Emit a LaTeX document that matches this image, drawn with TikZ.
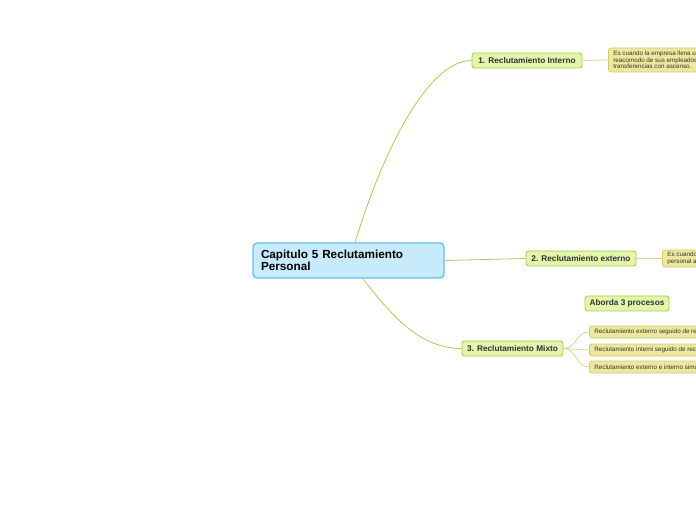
\documentclass[tikz,border=0pt]{standalone}
\usepackage{fontspec}
\setmainfont{Liberation Sans}
\usetikzlibrary{positioning}

\definecolor{centrofondo}{HTML}{C7EBFB}
\definecolor{centroborde}{HTML}{5EC3EF}
\definecolor{temafondo}{HTML}{E2F5AB}
\definecolor{temaborde}{HTML}{A8CF48}
\definecolor{detallefondo}{HTML}{EEE89E}
\definecolor{detalleborde}{HTML}{D4CC6C}
\definecolor{ramaverde}{HTML}{A9CD52}
\definecolor{ramaamarilla}{HTML}{DAD596}
\definecolor{textogris}{HTML}{333333}

\begin{document}
\begin{tikzpicture}[x=0.75pt, y=-0.75pt,
  centro/.style={draw=centroborde, fill=centrofondo, line width=1pt, rounded corners=3pt,
    minimum width=143.25pt, minimum height=26.25pt, inner xsep=6pt, text width=131.25pt,
    align=left, font=\fontsize{8.8}{9}\selectfont\bfseries},
  tema/.style={draw=temaborde, fill=temafondo, line width=0.7pt, rounded corners=2pt,
    minimum height=11.25pt, inner sep=0pt, text=textogris, font=\fontsize{6.2}{7}\selectfont\bfseries},
  detalle/.style={draw=detalleborde, fill=detallefondo, line width=0.6pt, rounded corners=2pt,
    inner xsep=3.75pt, inner ysep=1pt, align=left, anchor=west, text=textogris,
    font=\fontsize{4.7}{4.9}\selectfont},
  rama/.style={ramaverde, line width=0.6pt},
  subrama/.style={ramaamarilla, line width=0.6pt}]

  \useasboundingbox (0,0) rectangle (696,520);
  \begin{scope}
    \clip (0,0) rectangle (696,520);

    % central topic
    \node[centro] (centro) at (348.5,260.5) {Capitulo 5 Reclutamiento\\Personal};

    % main topics
    \node[tema, minimum width=82.5pt] (tema1) at (527,60.5) {1. Reclutamiento Interno};
    \node[tema, minimum width=82.5pt] (tema2) at (581,258.5) {2. Reclutamiento externo};
    \node[tema, minimum width=75.75pt] (tema3) at (512.5,348.5) {3. Reclutamiento Mixto};
    \node[tema, minimum width=63pt] (aborda) at (627,303.5) {Aborda 3 procesos};

    % details
    \node[detalle, minimum height=18pt] (det1) at (608,60)
      {Es cuando la empresa llena una vacante mediante el\\reacomodo de sus empleados, a trav\'es de ascensos o\\transferencias con ascenso.};
    \node[detalle, minimum height=12.75pt] (det2) at (662,258.5)
      {Es cuando la empresa busca\\personal ajeno a la organizaci\'on};
    \node[detalle, minimum height=9pt] (sub1) at (589,332)
      {Reclutamiento externo seguido de reclutamiento interno};
    \node[detalle, minimum height=9pt] (sub2) at (589,350)
      {Reclutamiento interni seguido de reclutamiento externo};
    \node[detalle, minimum height=9pt] (sub3) at (589,367)
      {Reclutamiento externo e interno simult\'aneamente};

    % branches
    \draw[rama] (centro.70) .. controls +(26,-86) and +(-45,0) .. (tema1.west);
    \draw[rama] (centro.east) -- (tema2.west);
    \draw[rama] (centro.-52) .. controls +(25,31) and +(-45,0) .. (tema3.west);

    \draw[subrama] (tema1.east) -- (det1.west);
    \draw[subrama] (tema2.east) -- (det2.west);
    \foreach \s in {sub1,sub2,sub3}
      \draw[subrama] (tema3.east) .. controls +(13,0) and +(-13,0) .. (\s.west);
  \end{scope}
\end{tikzpicture}
\end{document}
